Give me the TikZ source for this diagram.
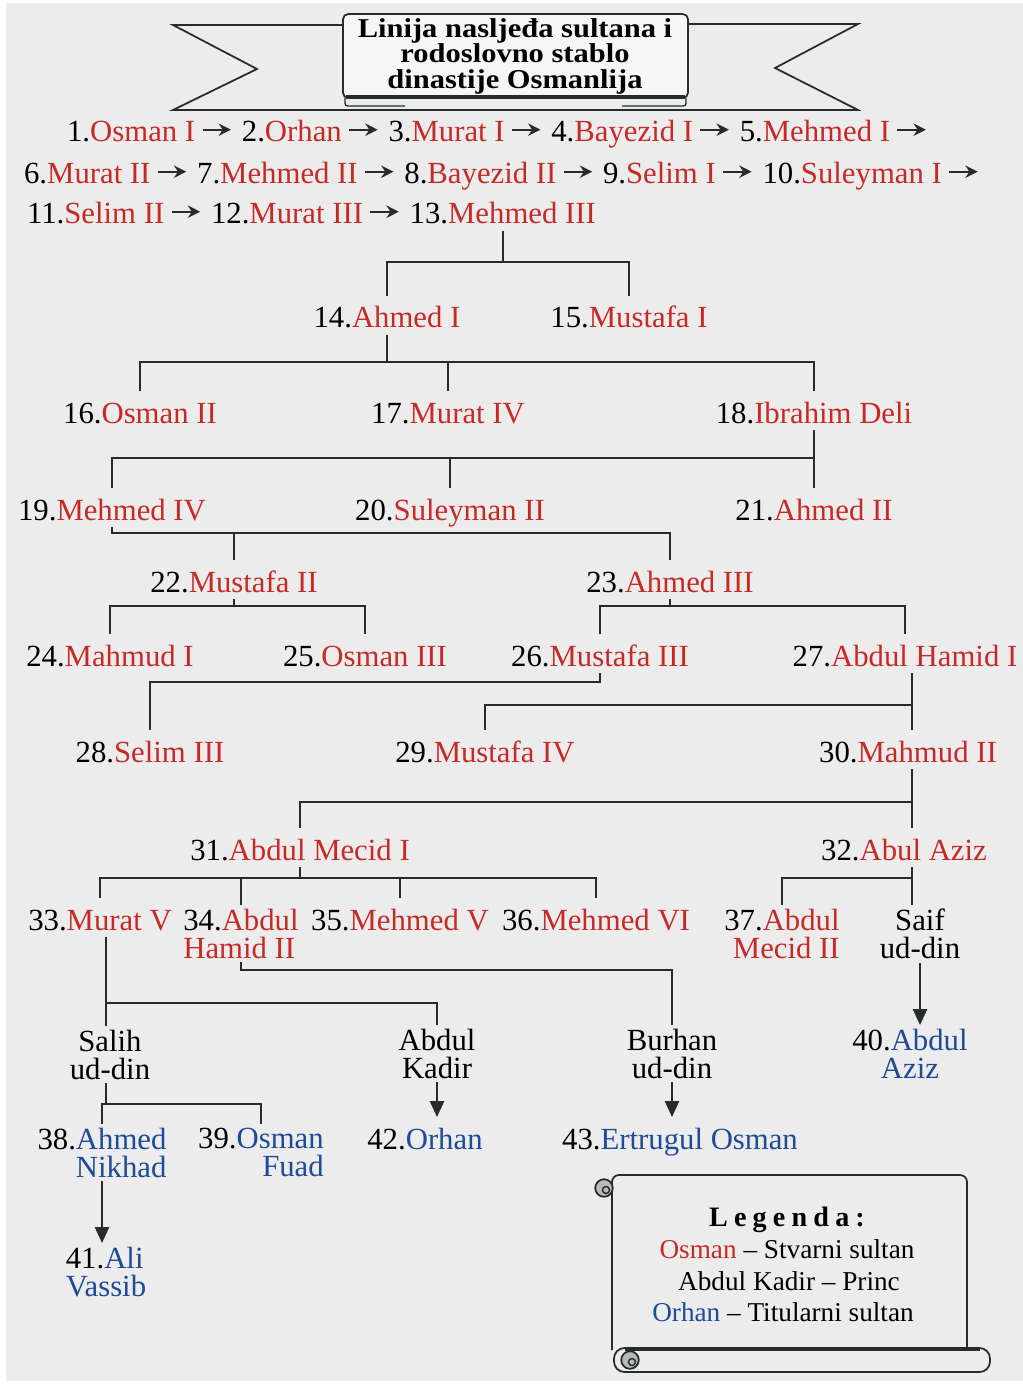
\documentclass[tikz,border=0pt]{standalone}
\usepackage{fontspec}
\setmainfont{Liberation Serif}
\newfontfamily\titlefont[FakeStretch=1.12]{Liberation Serif}
\usetikzlibrary{positioning,arrows.meta}

\definecolor{paper}{RGB}{236,236,236}
\definecolor{sultanred}{RGB}{198,42,38}
\definecolor{titularblue}{RGB}{30,74,152}
\definecolor{linkgray}{RGB}{38,44,44}

\newcommand{\sul}[2]{#1.\textcolor{sultanred}{#2}}
\newcommand{\tit}[2]{#1.\textcolor{titularblue}{#2}}
\newcommand{\namefont}{\fontsize{17.5}{16}\selectfont}

\begin{document}
\begin{tikzpicture}[x=0.02cm,y=-0.02cm]
    \tikzstyle{sultan}=[anchor=base, font=\namefont, text height=14pt, text depth=0pt, inner xsep=1pt, inner ysep=4pt]
    \tikzstyle{twoline}=[anchor=north, font=\namefont, inner xsep=1pt, inner ysep=2pt, align=center]
    \tikzstyle{link}=[draw=linkgray, line width=1.1pt]
    \tikzstyle{succ}=[link, line width=1.3pt, -{Stealth[length=7pt,width=7pt]}, shorten <=3pt, shorten >=5pt]
    \tikzstyle{heir}=[link, -{Triangle[length=9pt,width=8pt]}]
    \tikzstyle{legline}=[anchor=base, font=\fontsize{15.5}{18}\selectfont]

    % Paper
    \fill[white] (0,0) rectangle (1023,1385);
    \fill[paper] (6,3) rectangle (1023,1381);
    \useasboundingbox (0,0) rectangle (1023,1385);

    % Draw the title banner
    \draw[link, line width=1pt] (343,25) -- (173,25) -- (257,69) -- (173,110) -- (858,110) -- (775,68) -- (858,24) -- (688,24);
    \draw[link, line width=0.8pt, rounded corners=1.5pt] (345,98) -- (345,106) -- (405,106);
    \draw[link, line width=0.8pt, rounded corners=1.5pt] (686,98) -- (686,106) -- (622,106);
    \draw[link, line width=1pt, fill=white!55!paper, rounded corners=3pt] (343,14) rectangle (688,98);
    \draw[link, line width=2.2pt] (346,97) -- (685,97);
    \node[font=\titlefont\bfseries\fontsize{15.5}{14.5}\selectfont, align=center, inner sep=0pt] (title) at (515,56)
        {Linija nasljeđa sultana i\\rodoslovno stablo\\dinastije Osmanlija};

    % Draw the line of succession
    \node[sultan, anchor=base west] (s1) at (65,142) {\sul{1}{Osman I}};
    \node[sultan, right=0.85cm of s1] (s2) {\sul{2}{Orhan}};
    \node[sultan, right=0.85cm of s2] (s3) {\sul{3}{Murat I}};
    \node[sultan, right=0.85cm of s3] (s4) {\sul{4}{Bayezid I}};
    \node[sultan, right=0.85cm of s4] (s5) {\sul{5}{Mehmed I}};
    \node[sultan, anchor=base west] (s6) at (22,184) {\sul{6}{Murat II}};
    \node[sultan, right=0.85cm of s6] (s7) {\sul{7}{Mehmed II}};
    \node[sultan, right=0.85cm of s7] (s8) {\sul{8}{Bayezid II}};
    \node[sultan, right=0.85cm of s8] (s9) {\sul{9}{Selim I}};
    \node[sultan, right=0.85cm of s9] (s10) {\sul{10}{Suleyman I}};
    \node[sultan, anchor=base west] (s11) at (25,224) {\sul{11}{Selim II}};
    \node[sultan, right=0.85cm of s11] (s12) {\sul{12}{Murat III}};
    \node[sultan, right=0.85cm of s12] (s13) {\sul{13}{Mehmed III}};
    \coordinate[right=0.85cm of s5.east] (e5);
    \coordinate[right=0.85cm of s10.east] (e10);

    \foreach \a/\b in {1/2,2/3,3/4,4/5,6/7,7/8,8/9,9/10,11/12,12/13}
        \draw[succ] (s\a.east) -- (s\b.west);
    \draw[succ] (s5.east) -- (e5);
    \draw[succ] (s10.east) -- (e10);

    % Draw the family tree nodes
    \node[sultan] (s14) at (387,328) {\sul{14}{Ahmed I}};
    \node[sultan] (s15) at (629,328) {\sul{15}{Mustafa I}};
    \node[sultan] (s16) at (140,423) {\sul{16}{Osman II}};
    \node[sultan] (s17) at (448,423) {\sul{17}{Murat IV}};
    \node[sultan] (s18) at (814,423) {\sul{18}{Ibrahim Deli}};
    \node[sultan] (s19) at (112,520) {\sul{19}{Mehmed IV}};
    \node[sultan] (s20) at (450,520) {\sul{20}{Suleyman II}};
    \node[sultan] (s21) at (814,520) {\sul{21}{Ahmed II}};
    \node[sultan] (s22) at (234,592) {\sul{22}{Mustafa II}};
    \node[sultan] (s23) at (670,592) {\sul{23}{Ahmed III}};
    \node[sultan] (s24) at (110,666) {\sul{24}{Mahmud I}};
    \node[sultan] (s25) at (365,666) {\sul{25}{Osman III}};
    \node[sultan] (s26) at (600,666) {\sul{26}{Mustafa III}};
    \node[sultan] (s27) at (905,666) {\sul{27}{Abdul Hamid I}};
    \node[sultan] (s28) at (150,762) {\sul{28}{Selim III}};
    \node[sultan] (s29) at (485,762) {\sul{29}{Mustafa IV}};
    \node[sultan] (s30) at (908,762) {\sul{30}{Mahmud II}};
    \node[sultan] (s31) at (300,860) {\sul{31}{Abdul Mecid I}};
    \node[sultan] (s32) at (904,860) {\sul{32}{Abul Aziz}};
    \node[sultan] (s33) at (100,930) {\sul{33}{Murat V}};
    \node[twoline, align=left] (s34) at (241,905) {\sul{34}{Abdul}\\\textcolor{sultanred}{Hamid II}};
    \node[sultan] (s35) at (400,930) {\sul{35}{Mehmed V}};
    \node[sultan] (s36) at (596,930) {\sul{36}{Mehmed VI}};
    \node[twoline, align=right] (s37) at (782,905) {\sul{37}{Abdul}\\\textcolor{sultanred}{Mecid II}};
    \node[twoline] (saif) at (920,905) {Saif\\ud-din};

    \node[twoline] (salih) at (110,1026) {Salih\\ud-din};
    \node[twoline] (kadir) at (437,1025) {Abdul\\Kadir};
    \node[twoline] (burhan) at (672,1025) {Burhan\\ud-din};
    \node[twoline] (t40) at (910,1025) {\tit{40}{Abdul}\\\textcolor{titularblue}{Aziz}};
    \node[twoline, align=right] (t38) at (102,1124) {\tit{38}{Ahmed}\\\textcolor{titularblue}{Nikhad}};
    \node[twoline, align=right] (t39) at (261,1124) {\tit{39}{Osman}\\\textcolor{titularblue}{Fuad}};
    \node[sultan] (t42) at (425,1149) {\tit{42}{Orhan}};
    \node[sultan] (t43) at (680,1149) {\tit{43}{Ertrugul Osman}};
    \node[twoline, align=left] (t41) at (106,1243) {\tit{41}{Ali}\\\textcolor{titularblue}{Vassib}};

    % Bar levels
    \path (s13.south) ++(0,31) coordinate (b13);
    \coordinate (b14) at (387,362);
    \coordinate (b18) at (814,458);
    \coordinate (b19) at (112,533);
    \coordinate (b22) at (234,606);
    \coordinate (b23) at (670,606);
    \coordinate (b26) at (600,682);
    \coordinate (b27) at (912,705);
    \coordinate (b30) at (912,802);
    \coordinate (b31) at (300,878);
    \coordinate (b32) at (912,878);
    \coordinate (b33) at (106,1003);
    \coordinate (b34) at (241,970);
    \coordinate (bsalih) at (106,1104);

    % Connect parents with their children
    \draw[link] (s13.south) -- (b13);
    \draw[link] (s14.north) |- (b13) -| (s15.north);

    \draw[link] (s14.south) -- (b14);
    \draw[link] (s16.north) |- (b14) -| (s18.north);
    \draw[link] (b14 -| s17.north) -- (s17.north);

    \draw[link] (s18.south) -- (b18) -- (b18 |- s21.north);
    \draw[link] (s19.north) |- (b18);
    \draw[link] (b18 -| s20.north) -- (s20.north);

    \draw[link] (s19.south) -- (b19) -| (s23.north);
    \draw[link] (b19 -| s22.north) -- (s22.north);

    \draw[link] (s22.south) -- (b22);
    \draw[link] (s24.north) |- (b22) -| (s25.north);

    \draw[link] (s23.south) -- (b23);
    \draw[link] (s26.north) |- (b23) -| (s27.north);

    \draw[link] (s26.south) -- (b26) -| (s28.north);

    \draw[link] (s27.south -| b27) -- (b27 |- s30.north);
    \draw[link] (s29.north) |- (b27);

    \draw[link] (s30.south -| b30) -- (b30 |- s32.north);
    \draw[link] (s31.north) |- (b30);

    \draw[link] (s31.south) -- (b31);
    \draw[link] (s33.north) |- (b31) -| (s36.north);
    \foreach \c in {s34,s35}
        \draw[link] (b31 -| \c.north) -- (\c.north);

    \draw[link] (s32.south -| b32) -- (b32 |- saif.north);
    \draw[link] (s37.north) |- (b32);

    \draw[link] (s33.south -| b33) -- (b33 |- salih.north);
    \draw[link] (kadir.north) |- (b33);

    \draw[link] (s34.south) |- (burhan.north |- b34) -- (burhan.north);

    \draw[link] (salih.south -| bsalih) -- (bsalih);
    \draw[link] (t38.north) |- (bsalih) -| (t39.north);

    % Titular heirs
    \draw[heir] (saif.south) -- (saif.south |- t40.north);
    \draw[heir] (kadir.south) -- (kadir.south |- t42.north);
    \draw[heir] (burhan.south) -- (burhan.south |- t43.north);
    \draw[heir] (t38.south) -- (t38.south |- t41.north);

    % Legend scroll
    \draw[link, line width=1pt, fill=paper, rounded corners=4pt] (612,1350) -- (612,1175) -- (967,1175) -- (967,1350);
    \draw[link, line width=1pt, fill=gray!55] (604,1188) circle[radius=5pt];
    \draw[link, line width=0.8pt] (606,1190) circle[radius=2pt];
    \draw[link, line width=1pt, fill=paper, rounded corners=6pt] (614,1348) rectangle (990,1372);
    \draw[link, line width=2pt] (625,1349) -- (980,1349);
    \draw[link, line width=1pt, fill=gray!55] (630,1360) circle[radius=5pt];
    \draw[link, line width=0.8pt] (632,1362) circle[radius=2pt];

    \node[legline, font=\bfseries\addfontfeature{LetterSpace=22}\fontsize{16}{18}\selectfont] (legtitle) at (787,1226) {Legenda:};
    \node[legline] (leg1) at (787,1258) {\textcolor{sultanred}{Osman} – Stvarni sultan};
    \node[legline] (leg2) at (789,1290) {Abdul Kadir – Princ};
    \node[legline] (leg3) at (783,1321) {\textcolor{titularblue}{Orhan} – Titularni sultan};
\end{tikzpicture}
\end{document}
